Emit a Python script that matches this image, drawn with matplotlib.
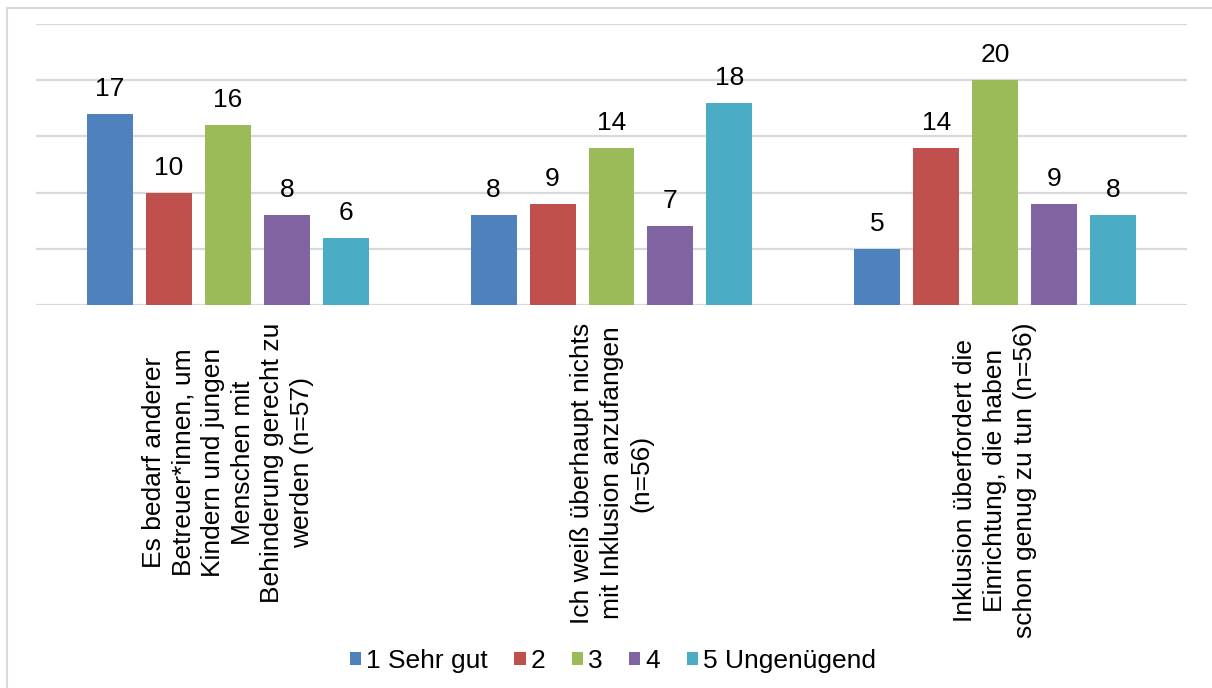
import numpy as np
import matplotlib.pyplot as plt
from matplotlib.patches import Rectangle

plt.rcParams['font.family'] = ['Liberation Sans', 'DejaVu Sans']

categories = [
    "Es bedarf anderer\nBetreuer*innen, um\nKindern und jungen\nMenschen mit\nBehinderung gerecht zu\nwerden (n=57)",
    "Ich weiß überhaupt nichts\nmit Inklusion anzufangen\n(n=56)",
    "Inklusion überfordert die\nEinrichtung, die haben\nschon genug zu tun (n=56)",
]
series_names = ["1 Sehr gut", "2", "3", "4", "5 Ungenügend"]
values = [
    [17, 8, 5],
    [10, 9, 14],
    [16, 14, 20],
    [8, 7, 9],
    [6, 18, 8],
]
colors = ["#4F81BD", "#C0504D", "#9BBB59", "#8064A2", "#4BACC6"]

fig = plt.figure(figsize=(12.12, 6.88), dpi=100)
# light outer frame (left and top edges visible)
fig.patches.append(Rectangle((7 / 1212, -0.1), 1.2, (688 - 8) / 688 + 0.1,
                             transform=fig.transFigure, fill=False,
                             edgecolor="#D9D9D9", linewidth=1.5))

ax = fig.add_axes([36 / 1212, (688 - 305) / 688, (1187 - 36) / 1212, (305 - 24) / 688])

x = np.arange(len(categories))
width = 46 / 383.7
step = 59 / 383.7
for i, (name, vals, c) in enumerate(zip(series_names, values, colors)):
    pos = x + (i - 2) * step
    ax.bar(pos, vals, width=width, color=c, label=name, zorder=3)
    for px, v in zip(pos, vals):
        ax.annotate(str(v), (px, v), xytext=(0, 13), textcoords="offset points",
                    ha="center", va="baseline", fontsize=19)

ax.set_xlim(-0.5, 2.5)
ax.set_ylim(0, 25)
ax.set_yticks([0, 5, 10, 15, 20, 25])
ax.set_yticklabels([])
ax.tick_params(left=False, bottom=False)
ax.grid(axis="y", color="#D9D9D9", linewidth=1.6, zorder=0)
for s in ax.spines.values():
    s.set_visible(False)

ax.set_xticks(x)
ax.set_xticklabels([])
for xi, lab in zip(x, categories):
    ax.text(xi, -0.062, lab, transform=ax.get_xaxis_transform(), rotation=90,
            ha="center", va="top", multialignment="center", fontsize=19,
            linespacing=1.3)

fig.legend(loc="center", bbox_to_anchor=(613 / 1212, (688 - 661) / 688), ncol=5,
           frameon=False, fontsize=19, handlelength=0.42, handleheight=0.42,
           handletextpad=0.2, columnspacing=1.0)

fig.savefig("out.png", dpi=100)
